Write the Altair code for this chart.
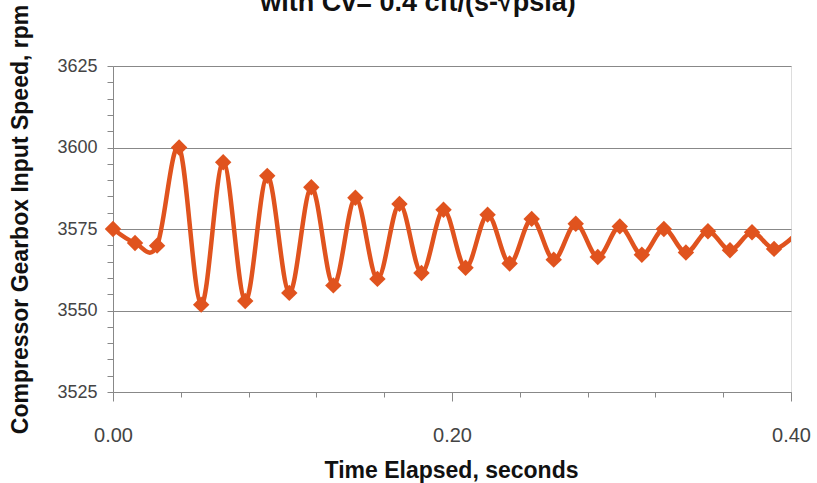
import altair as alt
import pandas as pd

# ---- data ----
time_s = [0.000, 0.013, 0.026, 0.039, 0.052, 0.065, 0.078, 0.091, 0.104, 0.117,
          0.130, 0.143, 0.156, 0.169, 0.182, 0.195, 0.208, 0.221, 0.234, 0.247,
          0.260, 0.273, 0.286, 0.299, 0.312, 0.325, 0.338, 0.351, 0.364, 0.377,
          0.390, 0.403]
speed_rpm = [3575.0, 3570.7, 3569.9, 3600.0, 3551.8, 3595.5, 3552.9, 3591.3, 3555.4, 3587.8,
             3557.7, 3584.6, 3559.7, 3582.7, 3561.5, 3580.9, 3563.1, 3579.4, 3564.4, 3578.1,
             3565.6, 3576.6, 3566.4, 3575.8, 3567.1, 3575.0, 3567.8, 3574.3, 3568.5, 3574.0,
             3568.9, 3573.5]

x_ticks = [0.0, 0.04, 0.08, 0.12, 0.16, 0.2, 0.24, 0.28, 0.32, 0.36, 0.4]
y_ticks = [3525, 3530, 3535, 3540, 3545, 3550, 3555, 3560, 3565, 3570, 3575,
           3580, 3585, 3590, 3595, 3600, 3605, 3610, 3615, 3620, 3625]

title_line = "with Cv= 0.4 cft/(s-\u221apsia)"
x_title = "Time Elapsed, seconds"
y_title = "Compressor Gearbox Input Speed, rpm"

COLOR = "#E0531E"
GRAY = "#888888"
LABEL = "#444444"
FONT = "Liberation Sans"

df = pd.DataFrame({"t": time_s, "v": speed_rpm})

x_enc = alt.X(
    "t:Q",
    scale=alt.Scale(domain=[0, 0.4], nice=False, zero=False),
    axis=alt.Axis(
        values=x_ticks,
        labelExpr="abs(datum.value*5 - round(datum.value*5)) < 1e-6 ? format(datum.value, '.2f') : ''",
        labelFlush=False,
        labelFont=FONT, labelFontSize=20, labelColor=LABEL,
        labelBaseline="alphabetic", labelPadding=40,
        tickSize={"condition": {"test": "abs(datum.value*5 - round(datum.value*5)) < 1e-6", "value": 9}, "value": 5},
        tickColor=GRAY, domainColor=GRAY, grid=False,
        title=x_title, titleFont=FONT, titleFontSize=23, titleFontWeight="bold",
        titleColor="#111111", titleX=338, titleY=85, titleAlign="center",
        titleBaseline="alphabetic",
    ),
)
y_enc = alt.Y(
    "v:Q",
    scale=alt.Scale(domain=[3525, 3625], nice=False, zero=False),
    axis=alt.Axis(
        values=y_ticks,
        labelExpr="datum.value % 25 === 0 ? format(datum.value, 'd') : ''",
        labelFont=FONT, labelFontSize=18, labelColor=LABEL, labelPadding=10,
        tickSize=6, tickColor=GRAY, domainColor=GRAY,
        grid=True, gridColor=GRAY, gridWidth=1,
        gridOpacity={"condition": {"test": "datum.value % 25 !== 0", "value": 0}, "value": 1},
        title=y_title, titleFont=FONT, titleFontSize=23, titleFontWeight="bold",
        titleColor="#111111", titleX=-93, titleY=153, titleAngle=270,
        titleAlign="center", titleBaseline="middle",
    ),
)

base = alt.Chart(df).encode(x=x_enc, y=y_enc)

line = base.mark_line(interpolate="cardinal", tension=0, strokeWidth=4.5, color=COLOR, clip=True)
pts = base.mark_point(shape="diamond", filled=True, size=270, opacity=1, color=COLOR).transform_filter(
    alt.datum.t <= 0.4
)

title_df = pd.DataFrame({"label": [title_line]})
title_mark = alt.Chart(title_df).mark_text(
    font=FONT, fontSize=27, fontWeight="bold", color="#111111",
    align="center", baseline="alphabetic",
).encode(x=alt.value(305), y=alt.value(-55), text="label:N")

chart = alt.layer(line, pts, title_mark).properties(
    width=678, height=326,
    autosize=alt.AutoSizeParams(type="none"),
    padding={"left": 113, "top": 66, "right": 26, "bottom": 91},
).configure_view(strokeWidth=0).configure(background="white")

chart.save("out.html", embed_options={"renderer": "svg", "actions": False})
